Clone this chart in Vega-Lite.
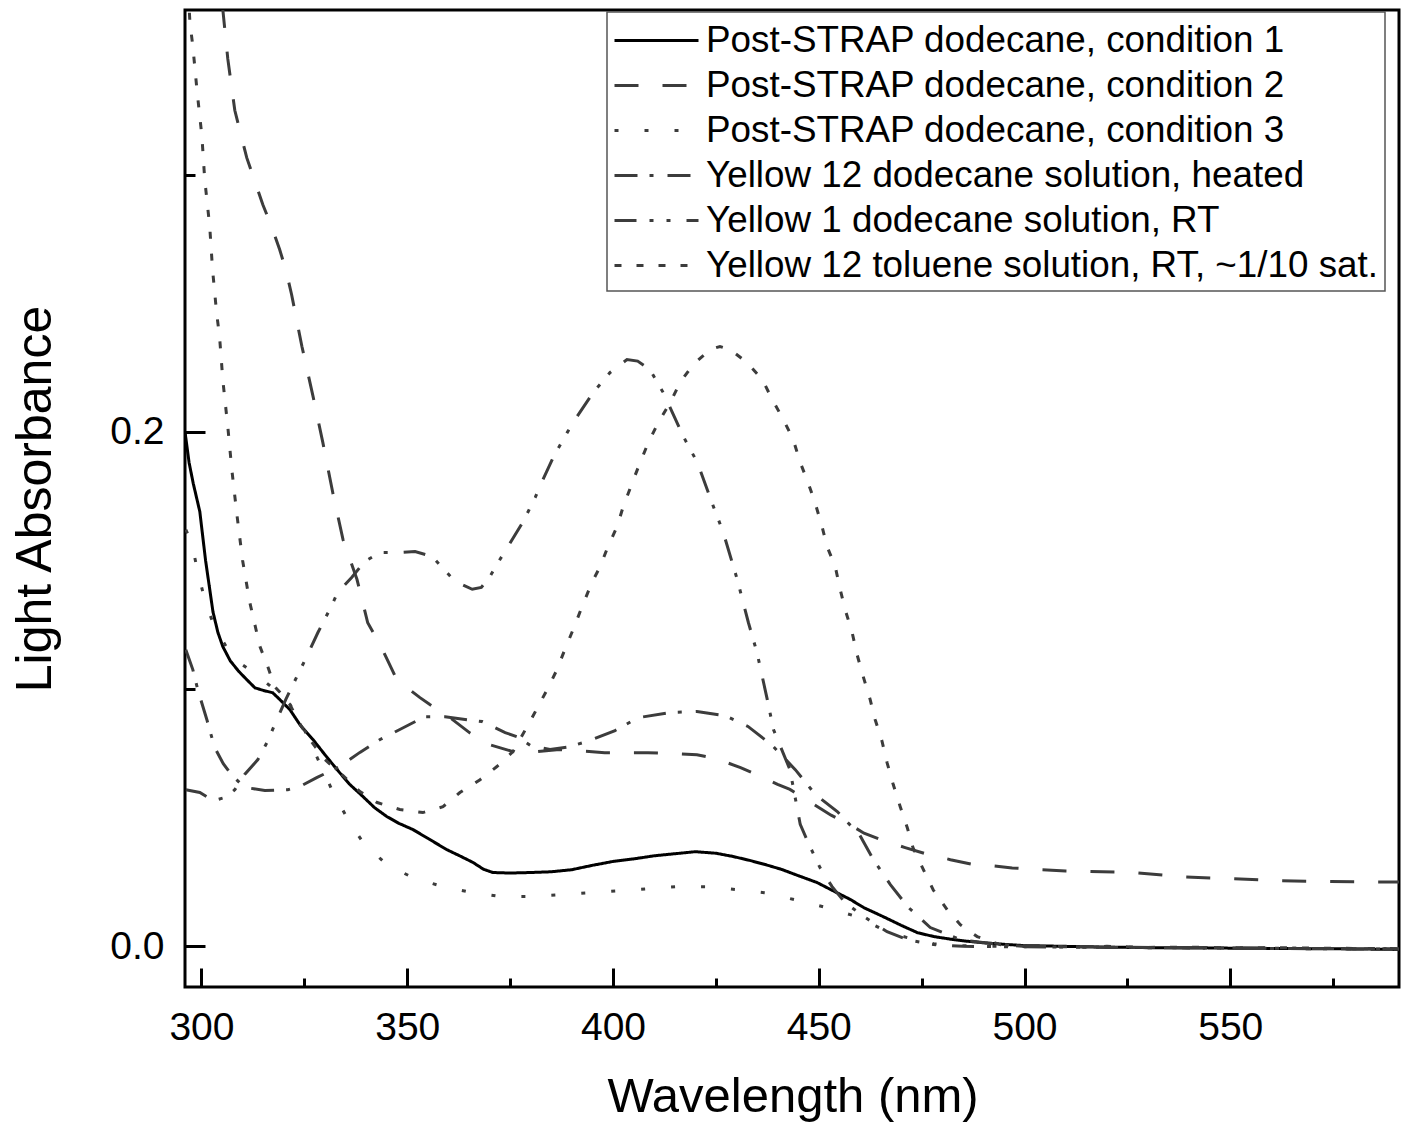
{
  "$schema": "https://vega.github.io/schema/vega-lite/v6.json",
  "width": 1214,
  "height": 977,
  "autosize": {"type": "none"},
  "padding": {"left": 185, "top": 10, "right": 6, "bottom": 148},
  "background": "white",
  "config": {
    "font": "Liberation Sans",
    "view": {"stroke": "black", "strokeWidth": 3},
    "legend": {
      "orient": "none",
      "legendX": 422,
      "legendY": 2,
      "padding": 6,
      "strokeColor": "#555555",
      "strokeWidth": 1.5,
      "labelFont": "Liberation Sans",
      "labelFontSize": 36.8,
      "labelColor": "black",
      "labelLimit": 1000,
      "labelOffset": 48,
      "symbolType": "M-1,0H3",
      "symbolSize": 1764,
      "symbolStrokeWidth": 3,
      "rowPadding": 3.0
    }
  },
  "data": {"values": [
    {"s": "Post-STRAP dodecane, condition 1", "x": 296, "y": 0.2},
    {"s": "Post-STRAP dodecane, condition 1", "x": 297, "y": 0.188},
    {"s": "Post-STRAP dodecane, condition 1", "x": 298, "y": 0.18},
    {"s": "Post-STRAP dodecane, condition 1", "x": 299.6, "y": 0.169},
    {"s": "Post-STRAP dodecane, condition 1", "x": 301, "y": 0.15},
    {"s": "Post-STRAP dodecane, condition 1", "x": 302.8, "y": 0.13},
    {"s": "Post-STRAP dodecane, condition 1", "x": 304, "y": 0.122},
    {"s": "Post-STRAP dodecane, condition 1", "x": 305.2, "y": 0.1165},
    {"s": "Post-STRAP dodecane, condition 1", "x": 307, "y": 0.111},
    {"s": "Post-STRAP dodecane, condition 1", "x": 309, "y": 0.107},
    {"s": "Post-STRAP dodecane, condition 1", "x": 311, "y": 0.1037},
    {"s": "Post-STRAP dodecane, condition 1", "x": 313, "y": 0.1005},
    {"s": "Post-STRAP dodecane, condition 1", "x": 315, "y": 0.0995},
    {"s": "Post-STRAP dodecane, condition 1", "x": 317.3, "y": 0.0986},
    {"s": "Post-STRAP dodecane, condition 1", "x": 319, "y": 0.096},
    {"s": "Post-STRAP dodecane, condition 1", "x": 321.5, "y": 0.092},
    {"s": "Post-STRAP dodecane, condition 1", "x": 324, "y": 0.086},
    {"s": "Post-STRAP dodecane, condition 1", "x": 327.1, "y": 0.0804},
    {"s": "Post-STRAP dodecane, condition 1", "x": 330, "y": 0.0745},
    {"s": "Post-STRAP dodecane, condition 1", "x": 332.9, "y": 0.0688},
    {"s": "Post-STRAP dodecane, condition 1", "x": 336, "y": 0.063},
    {"s": "Post-STRAP dodecane, condition 1", "x": 339.2, "y": 0.0583},
    {"s": "Post-STRAP dodecane, condition 1", "x": 342, "y": 0.054},
    {"s": "Post-STRAP dodecane, condition 1", "x": 345, "y": 0.0505},
    {"s": "Post-STRAP dodecane, condition 1", "x": 348, "y": 0.0478},
    {"s": "Post-STRAP dodecane, condition 1", "x": 351.4, "y": 0.0454},
    {"s": "Post-STRAP dodecane, condition 1", "x": 355, "y": 0.042},
    {"s": "Post-STRAP dodecane, condition 1", "x": 359.6, "y": 0.0376},
    {"s": "Post-STRAP dodecane, condition 1", "x": 363, "y": 0.035},
    {"s": "Post-STRAP dodecane, condition 1", "x": 366, "y": 0.0326},
    {"s": "Post-STRAP dodecane, condition 1", "x": 368.5, "y": 0.03},
    {"s": "Post-STRAP dodecane, condition 1", "x": 370.8, "y": 0.0287},
    {"s": "Post-STRAP dodecane, condition 1", "x": 375, "y": 0.0285},
    {"s": "Post-STRAP dodecane, condition 1", "x": 380, "y": 0.0287},
    {"s": "Post-STRAP dodecane, condition 1", "x": 385, "y": 0.029},
    {"s": "Post-STRAP dodecane, condition 1", "x": 390, "y": 0.0298},
    {"s": "Post-STRAP dodecane, condition 1", "x": 395, "y": 0.0315},
    {"s": "Post-STRAP dodecane, condition 1", "x": 400, "y": 0.033},
    {"s": "Post-STRAP dodecane, condition 1", "x": 405, "y": 0.034},
    {"s": "Post-STRAP dodecane, condition 1", "x": 410, "y": 0.0352},
    {"s": "Post-STRAP dodecane, condition 1", "x": 415, "y": 0.036},
    {"s": "Post-STRAP dodecane, condition 1", "x": 420, "y": 0.0368},
    {"s": "Post-STRAP dodecane, condition 1", "x": 425, "y": 0.0362},
    {"s": "Post-STRAP dodecane, condition 1", "x": 429, "y": 0.035},
    {"s": "Post-STRAP dodecane, condition 1", "x": 433, "y": 0.0335},
    {"s": "Post-STRAP dodecane, condition 1", "x": 437, "y": 0.0318},
    {"s": "Post-STRAP dodecane, condition 1", "x": 441, "y": 0.0299},
    {"s": "Post-STRAP dodecane, condition 1", "x": 445, "y": 0.0275},
    {"s": "Post-STRAP dodecane, condition 1", "x": 449.6, "y": 0.0248},
    {"s": "Post-STRAP dodecane, condition 1", "x": 453, "y": 0.022},
    {"s": "Post-STRAP dodecane, condition 1", "x": 457.7, "y": 0.0182},
    {"s": "Post-STRAP dodecane, condition 1", "x": 461, "y": 0.015},
    {"s": "Post-STRAP dodecane, condition 1", "x": 465.6, "y": 0.0116},
    {"s": "Post-STRAP dodecane, condition 1", "x": 470, "y": 0.0082},
    {"s": "Post-STRAP dodecane, condition 1", "x": 474, "y": 0.0053},
    {"s": "Post-STRAP dodecane, condition 1", "x": 478, "y": 0.0038},
    {"s": "Post-STRAP dodecane, condition 1", "x": 482, "y": 0.0028},
    {"s": "Post-STRAP dodecane, condition 1", "x": 486, "y": 0.002},
    {"s": "Post-STRAP dodecane, condition 1", "x": 490, "y": 0.0014},
    {"s": "Post-STRAP dodecane, condition 1", "x": 495, "y": 0.0008},
    {"s": "Post-STRAP dodecane, condition 1", "x": 500, "y": 0.0003},
    {"s": "Post-STRAP dodecane, condition 1", "x": 510, "y": 0.0},
    {"s": "Post-STRAP dodecane, condition 1", "x": 520, "y": -0.0003},
    {"s": "Post-STRAP dodecane, condition 1", "x": 530, "y": -0.0005},
    {"s": "Post-STRAP dodecane, condition 1", "x": 540, "y": -0.0005},
    {"s": "Post-STRAP dodecane, condition 1", "x": 550, "y": -0.0007},
    {"s": "Post-STRAP dodecane, condition 1", "x": 560, "y": -0.0008},
    {"s": "Post-STRAP dodecane, condition 1", "x": 570, "y": -0.0009},
    {"s": "Post-STRAP dodecane, condition 1", "x": 580, "y": -0.001},
    {"s": "Post-STRAP dodecane, condition 1", "x": 591, "y": -0.0012},

    {"s": "Post-STRAP dodecane, condition 2", "x": 304.5, "y": 0.385},
    {"s": "Post-STRAP dodecane, condition 2", "x": 305.2, "y": 0.364},
    {"s": "Post-STRAP dodecane, condition 2", "x": 306.4, "y": 0.345},
    {"s": "Post-STRAP dodecane, condition 2", "x": 308.1, "y": 0.325},
    {"s": "Post-STRAP dodecane, condition 2", "x": 311, "y": 0.3066},
    {"s": "Post-STRAP dodecane, condition 2", "x": 314.9, "y": 0.2884},
    {"s": "Post-STRAP dodecane, condition 2", "x": 317, "y": 0.28},
    {"s": "Post-STRAP dodecane, condition 2", "x": 319, "y": 0.2709},
    {"s": "Post-STRAP dodecane, condition 2", "x": 320.5, "y": 0.263},
    {"s": "Post-STRAP dodecane, condition 2", "x": 321.9, "y": 0.2534},
    {"s": "Post-STRAP dodecane, condition 2", "x": 324.4, "y": 0.2333},
    {"s": "Post-STRAP dodecane, condition 2", "x": 327.1, "y": 0.2139},
    {"s": "Post-STRAP dodecane, condition 2", "x": 329.5, "y": 0.1958},
    {"s": "Post-STRAP dodecane, condition 2", "x": 331.9, "y": 0.1764},
    {"s": "Post-STRAP dodecane, condition 2", "x": 334.4, "y": 0.1581},
    {"s": "Post-STRAP dodecane, condition 2", "x": 337.8, "y": 0.1426},
    {"s": "Post-STRAP dodecane, condition 2", "x": 340.4, "y": 0.1258},
    {"s": "Post-STRAP dodecane, condition 2", "x": 343.4, "y": 0.1173},
    {"s": "Post-STRAP dodecane, condition 2", "x": 347, "y": 0.1053},
    {"s": "Post-STRAP dodecane, condition 2", "x": 350, "y": 0.1005},
    {"s": "Post-STRAP dodecane, condition 2", "x": 353.1, "y": 0.0967},
    {"s": "Post-STRAP dodecane, condition 2", "x": 355.5, "y": 0.094},
    {"s": "Post-STRAP dodecane, condition 2", "x": 360.4, "y": 0.0889},
    {"s": "Post-STRAP dodecane, condition 2", "x": 365.2, "y": 0.083},
    {"s": "Post-STRAP dodecane, condition 2", "x": 370, "y": 0.0784},
    {"s": "Post-STRAP dodecane, condition 2", "x": 375.7, "y": 0.0757},
    {"s": "Post-STRAP dodecane, condition 2", "x": 380, "y": 0.0755},
    {"s": "Post-STRAP dodecane, condition 2", "x": 387, "y": 0.0765},
    {"s": "Post-STRAP dodecane, condition 2", "x": 392, "y": 0.076},
    {"s": "Post-STRAP dodecane, condition 2", "x": 398, "y": 0.0753},
    {"s": "Post-STRAP dodecane, condition 2", "x": 403, "y": 0.0753},
    {"s": "Post-STRAP dodecane, condition 2", "x": 408.5, "y": 0.0753},
    {"s": "Post-STRAP dodecane, condition 2", "x": 414, "y": 0.075},
    {"s": "Post-STRAP dodecane, condition 2", "x": 420.4, "y": 0.0745},
    {"s": "Post-STRAP dodecane, condition 2", "x": 425, "y": 0.073},
    {"s": "Post-STRAP dodecane, condition 2", "x": 431, "y": 0.0695},
    {"s": "Post-STRAP dodecane, condition 2", "x": 436, "y": 0.066},
    {"s": "Post-STRAP dodecane, condition 2", "x": 440, "y": 0.063},
    {"s": "Post-STRAP dodecane, condition 2", "x": 443, "y": 0.061},
    {"s": "Post-STRAP dodecane, condition 2", "x": 449, "y": 0.055},
    {"s": "Post-STRAP dodecane, condition 2", "x": 453, "y": 0.051},
    {"s": "Post-STRAP dodecane, condition 2", "x": 457.6, "y": 0.0473},
    {"s": "Post-STRAP dodecane, condition 2", "x": 461, "y": 0.044},
    {"s": "Post-STRAP dodecane, condition 2", "x": 465, "y": 0.0415},
    {"s": "Post-STRAP dodecane, condition 2", "x": 471, "y": 0.0384},
    {"s": "Post-STRAP dodecane, condition 2", "x": 476, "y": 0.036},
    {"s": "Post-STRAP dodecane, condition 2", "x": 482, "y": 0.0337},
    {"s": "Post-STRAP dodecane, condition 2", "x": 487, "y": 0.032},
    {"s": "Post-STRAP dodecane, condition 2", "x": 491.6, "y": 0.0314},
    {"s": "Post-STRAP dodecane, condition 2", "x": 497, "y": 0.0305},
    {"s": "Post-STRAP dodecane, condition 2", "x": 503.8, "y": 0.0298},
    {"s": "Post-STRAP dodecane, condition 2", "x": 510, "y": 0.0293},
    {"s": "Post-STRAP dodecane, condition 2", "x": 516, "y": 0.0291},
    {"s": "Post-STRAP dodecane, condition 2", "x": 526.4, "y": 0.0287},
    {"s": "Post-STRAP dodecane, condition 2", "x": 537.8, "y": 0.0271},
    {"s": "Post-STRAP dodecane, condition 2", "x": 550, "y": 0.0263},
    {"s": "Post-STRAP dodecane, condition 2", "x": 562.2, "y": 0.0255},
    {"s": "Post-STRAP dodecane, condition 2", "x": 574.4, "y": 0.0252},
    {"s": "Post-STRAP dodecane, condition 2", "x": 591, "y": 0.025},

    {"s": "Post-STRAP dodecane, condition 3", "x": 296.2, "y": 0.162},
    {"s": "Post-STRAP dodecane, condition 3", "x": 297.6, "y": 0.157},
    {"s": "Post-STRAP dodecane, condition 3", "x": 299.1, "y": 0.1456},
    {"s": "Post-STRAP dodecane, condition 3", "x": 300.8, "y": 0.1348},
    {"s": "Post-STRAP dodecane, condition 3", "x": 303.2, "y": 0.1239},
    {"s": "Post-STRAP dodecane, condition 3", "x": 306.9, "y": 0.1142},
    {"s": "Post-STRAP dodecane, condition 3", "x": 309.5, "y": 0.11},
    {"s": "Post-STRAP dodecane, condition 3", "x": 312.5, "y": 0.1066},
    {"s": "Post-STRAP dodecane, condition 3", "x": 315, "y": 0.1035},
    {"s": "Post-STRAP dodecane, condition 3", "x": 317.8, "y": 0.0998},
    {"s": "Post-STRAP dodecane, condition 3", "x": 321.5, "y": 0.094},
    {"s": "Post-STRAP dodecane, condition 3", "x": 324.5, "y": 0.086},
    {"s": "Post-STRAP dodecane, condition 3", "x": 328.8, "y": 0.071},
    {"s": "Post-STRAP dodecane, condition 3", "x": 332, "y": 0.0598},
    {"s": "Post-STRAP dodecane, condition 3", "x": 335.6, "y": 0.0493},
    {"s": "Post-STRAP dodecane, condition 3", "x": 339.3, "y": 0.0403},
    {"s": "Post-STRAP dodecane, condition 3", "x": 345, "y": 0.0318},
    {"s": "Post-STRAP dodecane, condition 3", "x": 351.4, "y": 0.0267},
    {"s": "Post-STRAP dodecane, condition 3", "x": 358.7, "y": 0.0232},
    {"s": "Post-STRAP dodecane, condition 3", "x": 365.8, "y": 0.0209},
    {"s": "Post-STRAP dodecane, condition 3", "x": 372.5, "y": 0.0194},
    {"s": "Post-STRAP dodecane, condition 3", "x": 379.8, "y": 0.0194},
    {"s": "Post-STRAP dodecane, condition 3", "x": 387.1, "y": 0.0201},
    {"s": "Post-STRAP dodecane, condition 3", "x": 393.9, "y": 0.0208},
    {"s": "Post-STRAP dodecane, condition 3", "x": 401.2, "y": 0.0216},
    {"s": "Post-STRAP dodecane, condition 3", "x": 408.5, "y": 0.0224},
    {"s": "Post-STRAP dodecane, condition 3", "x": 415.6, "y": 0.0232},
    {"s": "Post-STRAP dodecane, condition 3", "x": 422.9, "y": 0.0232},
    {"s": "Post-STRAP dodecane, condition 3", "x": 430.2, "y": 0.022},
    {"s": "Post-STRAP dodecane, condition 3", "x": 437, "y": 0.0208},
    {"s": "Post-STRAP dodecane, condition 3", "x": 444.3, "y": 0.0181},
    {"s": "Post-STRAP dodecane, condition 3", "x": 451.1, "y": 0.0154},
    {"s": "Post-STRAP dodecane, condition 3", "x": 459.4, "y": 0.0115},
    {"s": "Post-STRAP dodecane, condition 3", "x": 466.6, "y": 0.0057},
    {"s": "Post-STRAP dodecane, condition 3", "x": 471.5, "y": 0.0034},
    {"s": "Post-STRAP dodecane, condition 3", "x": 477.9, "y": 0.001},
    {"s": "Post-STRAP dodecane, condition 3", "x": 485, "y": 0.0003},
    {"s": "Post-STRAP dodecane, condition 3", "x": 495, "y": 0.0},
    {"s": "Post-STRAP dodecane, condition 3", "x": 510, "y": -0.0003},
    {"s": "Post-STRAP dodecane, condition 3", "x": 530, "y": -0.0005},
    {"s": "Post-STRAP dodecane, condition 3", "x": 550, "y": -0.0006},
    {"s": "Post-STRAP dodecane, condition 3", "x": 570, "y": -0.0008},
    {"s": "Post-STRAP dodecane, condition 3", "x": 591, "y": -0.001},

    {"s": "Yellow 12 dodecane solution, heated", "x": 296.2, "y": 0.1153},
    {"s": "Yellow 12 dodecane solution, heated", "x": 297.9, "y": 0.1076},
    {"s": "Yellow 12 dodecane solution, heated", "x": 299.1, "y": 0.0998},
    {"s": "Yellow 12 dodecane solution, heated", "x": 301.3, "y": 0.0882},
    {"s": "Yellow 12 dodecane solution, heated", "x": 303.2, "y": 0.0773},
    {"s": "Yellow 12 dodecane solution, heated", "x": 305.3, "y": 0.071},
    {"s": "Yellow 12 dodecane solution, heated", "x": 307.4, "y": 0.0665},
    {"s": "Yellow 12 dodecane solution, heated", "x": 310.5, "y": 0.0618},
    {"s": "Yellow 12 dodecane solution, heated", "x": 315.4, "y": 0.0606},
    {"s": "Yellow 12 dodecane solution, heated", "x": 321, "y": 0.0609},
    {"s": "Yellow 12 dodecane solution, heated", "x": 323.9, "y": 0.0621},
    {"s": "Yellow 12 dodecane solution, heated", "x": 328, "y": 0.0656},
    {"s": "Yellow 12 dodecane solution, heated", "x": 333.6, "y": 0.0699},
    {"s": "Yellow 12 dodecane solution, heated", "x": 338.5, "y": 0.0754},
    {"s": "Yellow 12 dodecane solution, heated", "x": 343.4, "y": 0.0804},
    {"s": "Yellow 12 dodecane solution, heated", "x": 348.2, "y": 0.0843},
    {"s": "Yellow 12 dodecane solution, heated", "x": 354.3, "y": 0.0893},
    {"s": "Yellow 12 dodecane solution, heated", "x": 359.2, "y": 0.0893},
    {"s": "Yellow 12 dodecane solution, heated", "x": 364.5, "y": 0.0881},
    {"s": "Yellow 12 dodecane solution, heated", "x": 368.2, "y": 0.0874},
    {"s": "Yellow 12 dodecane solution, heated", "x": 373.8, "y": 0.0831},
    {"s": "Yellow 12 dodecane solution, heated", "x": 376.7, "y": 0.0815},
    {"s": "Yellow 12 dodecane solution, heated", "x": 380, "y": 0.078},
    {"s": "Yellow 12 dodecane solution, heated", "x": 384.7, "y": 0.0765},
    {"s": "Yellow 12 dodecane solution, heated", "x": 389, "y": 0.0775},
    {"s": "Yellow 12 dodecane solution, heated", "x": 393.7, "y": 0.0796},
    {"s": "Yellow 12 dodecane solution, heated", "x": 400.5, "y": 0.0839},
    {"s": "Yellow 12 dodecane solution, heated", "x": 406.1, "y": 0.0889},
    {"s": "Yellow 12 dodecane solution, heated", "x": 413.9, "y": 0.0909},
    {"s": "Yellow 12 dodecane solution, heated", "x": 420.4, "y": 0.0913},
    {"s": "Yellow 12 dodecane solution, heated", "x": 427.2, "y": 0.0897},
    {"s": "Yellow 12 dodecane solution, heated", "x": 432.8, "y": 0.0855},
    {"s": "Yellow 12 dodecane solution, heated", "x": 438.7, "y": 0.0781},
    {"s": "Yellow 12 dodecane solution, heated", "x": 444.3, "y": 0.0687},
    {"s": "Yellow 12 dodecane solution, heated", "x": 449.2, "y": 0.059},
    {"s": "Yellow 12 dodecane solution, heated", "x": 454.5, "y": 0.0524},
    {"s": "Yellow 12 dodecane solution, heated", "x": 459.9, "y": 0.0434},
    {"s": "Yellow 12 dodecane solution, heated", "x": 463.3, "y": 0.0337},
    {"s": "Yellow 12 dodecane solution, heated", "x": 467.4, "y": 0.024},
    {"s": "Yellow 12 dodecane solution, heated", "x": 471.8, "y": 0.0151},
    {"s": "Yellow 12 dodecane solution, heated", "x": 477.1, "y": 0.0073},
    {"s": "Yellow 12 dodecane solution, heated", "x": 484.4, "y": 0.0026},
    {"s": "Yellow 12 dodecane solution, heated", "x": 494, "y": 0.0007},
    {"s": "Yellow 12 dodecane solution, heated", "x": 505, "y": 0.0},
    {"s": "Yellow 12 dodecane solution, heated", "x": 520, "y": -0.0003},
    {"s": "Yellow 12 dodecane solution, heated", "x": 540, "y": -0.0006},
    {"s": "Yellow 12 dodecane solution, heated", "x": 560, "y": -0.0008},
    {"s": "Yellow 12 dodecane solution, heated", "x": 580, "y": -0.001},
    {"s": "Yellow 12 dodecane solution, heated", "x": 591, "y": -0.001},

    {"s": "Yellow 1 dodecane solution, RT", "x": 296.2, "y": 0.0609},
    {"s": "Yellow 1 dodecane solution, RT", "x": 299.6, "y": 0.0598},
    {"s": "Yellow 1 dodecane solution, RT", "x": 302, "y": 0.0575},
    {"s": "Yellow 1 dodecane solution, RT", "x": 303.7, "y": 0.057},
    {"s": "Yellow 1 dodecane solution, RT", "x": 306, "y": 0.058},
    {"s": "Yellow 1 dodecane solution, RT", "x": 308.1, "y": 0.0609},
    {"s": "Yellow 1 dodecane solution, RT", "x": 310.5, "y": 0.0668},
    {"s": "Yellow 1 dodecane solution, RT", "x": 313.7, "y": 0.0726},
    {"s": "Yellow 1 dodecane solution, RT", "x": 315.9, "y": 0.0792},
    {"s": "Yellow 1 dodecane solution, RT", "x": 317.8, "y": 0.0862},
    {"s": "Yellow 1 dodecane solution, RT", "x": 320.5, "y": 0.096},
    {"s": "Yellow 1 dodecane solution, RT", "x": 323.2, "y": 0.1049},
    {"s": "Yellow 1 dodecane solution, RT", "x": 325.6, "y": 0.1127},
    {"s": "Yellow 1 dodecane solution, RT", "x": 328.3, "y": 0.122},
    {"s": "Yellow 1 dodecane solution, RT", "x": 331.4, "y": 0.1317},
    {"s": "Yellow 1 dodecane solution, RT", "x": 333.1, "y": 0.1376},
    {"s": "Yellow 1 dodecane solution, RT", "x": 336.5, "y": 0.1434},
    {"s": "Yellow 1 dodecane solution, RT", "x": 339.7, "y": 0.1497},
    {"s": "Yellow 1 dodecane solution, RT", "x": 343.4, "y": 0.1531},
    {"s": "Yellow 1 dodecane solution, RT", "x": 347.7, "y": 0.1531},
    {"s": "Yellow 1 dodecane solution, RT", "x": 351.9, "y": 0.1535},
    {"s": "Yellow 1 dodecane solution, RT", "x": 356, "y": 0.1516},
    {"s": "Yellow 1 dodecane solution, RT", "x": 358.5, "y": 0.1473},
    {"s": "Yellow 1 dodecane solution, RT", "x": 361.6, "y": 0.1419},
    {"s": "Yellow 1 dodecane solution, RT", "x": 365.8, "y": 0.1388},
    {"s": "Yellow 1 dodecane solution, RT", "x": 368, "y": 0.1395},
    {"s": "Yellow 1 dodecane solution, RT", "x": 370.1, "y": 0.1438},
    {"s": "Yellow 1 dodecane solution, RT", "x": 372.1, "y": 0.1493},
    {"s": "Yellow 1 dodecane solution, RT", "x": 374.5, "y": 0.1555},
    {"s": "Yellow 1 dodecane solution, RT", "x": 378.2, "y": 0.1652},
    {"s": "Yellow 1 dodecane solution, RT", "x": 381.1, "y": 0.1745},
    {"s": "Yellow 1 dodecane solution, RT", "x": 383, "y": 0.1815},
    {"s": "Yellow 1 dodecane solution, RT", "x": 385.7, "y": 0.1908},
    {"s": "Yellow 1 dodecane solution, RT", "x": 388.9, "y": 0.1998},
    {"s": "Yellow 1 dodecane solution, RT", "x": 391.3, "y": 0.206},
    {"s": "Yellow 1 dodecane solution, RT", "x": 395.2, "y": 0.2153},
    {"s": "Yellow 1 dodecane solution, RT", "x": 399.3, "y": 0.2231},
    {"s": "Yellow 1 dodecane solution, RT", "x": 403.4, "y": 0.2281},
    {"s": "Yellow 1 dodecane solution, RT", "x": 406, "y": 0.2275},
    {"s": "Yellow 1 dodecane solution, RT", "x": 409, "y": 0.2242},
    {"s": "Yellow 1 dodecane solution, RT", "x": 412.2, "y": 0.2153},
    {"s": "Yellow 1 dodecane solution, RT", "x": 417.1, "y": 0.1982},
    {"s": "Yellow 1 dodecane solution, RT", "x": 420.5, "y": 0.1881},
    {"s": "Yellow 1 dodecane solution, RT", "x": 424.4, "y": 0.171},
    {"s": "Yellow 1 dodecane solution, RT", "x": 426.8, "y": 0.1609},
    {"s": "Yellow 1 dodecane solution, RT", "x": 430.2, "y": 0.1426},
    {"s": "Yellow 1 dodecane solution, RT", "x": 432.9, "y": 0.1259},
    {"s": "Yellow 1 dodecane solution, RT", "x": 435, "y": 0.1142},
    {"s": "Yellow 1 dodecane solution, RT", "x": 437.5, "y": 0.0959},
    {"s": "Yellow 1 dodecane solution, RT", "x": 439, "y": 0.0843},
    {"s": "Yellow 1 dodecane solution, RT", "x": 443, "y": 0.0687},
    {"s": "Yellow 1 dodecane solution, RT", "x": 445.5, "y": 0.0474},
    {"s": "Yellow 1 dodecane solution, RT", "x": 447.4, "y": 0.0404},
    {"s": "Yellow 1 dodecane solution, RT", "x": 450.3, "y": 0.0306},
    {"s": "Yellow 1 dodecane solution, RT", "x": 453.2, "y": 0.0233},
    {"s": "Yellow 1 dodecane solution, RT", "x": 456.4, "y": 0.017},
    {"s": "Yellow 1 dodecane solution, RT", "x": 461.3, "y": 0.0112},
    {"s": "Yellow 1 dodecane solution, RT", "x": 466.6, "y": 0.0057},
    {"s": "Yellow 1 dodecane solution, RT", "x": 471.5, "y": 0.0026},
    {"s": "Yellow 1 dodecane solution, RT", "x": 477.9, "y": 0.0007},
    {"s": "Yellow 1 dodecane solution, RT", "x": 485, "y": 0.0},
    {"s": "Yellow 1 dodecane solution, RT", "x": 500, "y": -0.0002},
    {"s": "Yellow 1 dodecane solution, RT", "x": 520, "y": -0.0004},
    {"s": "Yellow 1 dodecane solution, RT", "x": 540, "y": -0.0006},
    {"s": "Yellow 1 dodecane solution, RT", "x": 560, "y": -0.0007},
    {"s": "Yellow 1 dodecane solution, RT", "x": 580, "y": -0.0009},
    {"s": "Yellow 1 dodecane solution, RT", "x": 591, "y": -0.001},

    {"s": "Yellow 12 toluene solution, RT, ~1/10 sat.", "x": 296.5, "y": 0.38},
    {"s": "Yellow 12 toluene solution, RT, ~1/10 sat.", "x": 297.2, "y": 0.359},
    {"s": "Yellow 12 toluene solution, RT, ~1/10 sat.", "x": 297.9, "y": 0.35},
    {"s": "Yellow 12 toluene solution, RT, ~1/10 sat.", "x": 298.9, "y": 0.333},
    {"s": "Yellow 12 toluene solution, RT, ~1/10 sat.", "x": 300.1, "y": 0.315},
    {"s": "Yellow 12 toluene solution, RT, ~1/10 sat.", "x": 300.8, "y": 0.298},
    {"s": "Yellow 12 toluene solution, RT, ~1/10 sat.", "x": 302, "y": 0.28},
    {"s": "Yellow 12 toluene solution, RT, ~1/10 sat.", "x": 302.7, "y": 0.263},
    {"s": "Yellow 12 toluene solution, RT, ~1/10 sat.", "x": 303.7, "y": 0.246},
    {"s": "Yellow 12 toluene solution, RT, ~1/10 sat.", "x": 304.4, "y": 0.237},
    {"s": "Yellow 12 toluene solution, RT, ~1/10 sat.", "x": 305.2, "y": 0.22},
    {"s": "Yellow 12 toluene solution, RT, ~1/10 sat.", "x": 306.4, "y": 0.202},
    {"s": "Yellow 12 toluene solution, RT, ~1/10 sat.", "x": 307.4, "y": 0.185},
    {"s": "Yellow 12 toluene solution, RT, ~1/10 sat.", "x": 308.6, "y": 0.168},
    {"s": "Yellow 12 toluene solution, RT, ~1/10 sat.", "x": 310, "y": 0.15},
    {"s": "Yellow 12 toluene solution, RT, ~1/10 sat.", "x": 311.7, "y": 0.134},
    {"s": "Yellow 12 toluene solution, RT, ~1/10 sat.", "x": 314.2, "y": 0.1166},
    {"s": "Yellow 12 toluene solution, RT, ~1/10 sat.", "x": 316.1, "y": 0.1088},
    {"s": "Yellow 12 toluene solution, RT, ~1/10 sat.", "x": 317.8, "y": 0.101},
    {"s": "Yellow 12 toluene solution, RT, ~1/10 sat.", "x": 319.5, "y": 0.098},
    {"s": "Yellow 12 toluene solution, RT, ~1/10 sat.", "x": 321.5, "y": 0.094},
    {"s": "Yellow 12 toluene solution, RT, ~1/10 sat.", "x": 324.1, "y": 0.086},
    {"s": "Yellow 12 toluene solution, RT, ~1/10 sat.", "x": 327, "y": 0.079},
    {"s": "Yellow 12 toluene solution, RT, ~1/10 sat.", "x": 330, "y": 0.0726},
    {"s": "Yellow 12 toluene solution, RT, ~1/10 sat.", "x": 334.4, "y": 0.0664},
    {"s": "Yellow 12 toluene solution, RT, ~1/10 sat.", "x": 338.5, "y": 0.0602},
    {"s": "Yellow 12 toluene solution, RT, ~1/10 sat.", "x": 342.7, "y": 0.0559},
    {"s": "Yellow 12 toluene solution, RT, ~1/10 sat.", "x": 348.2, "y": 0.0532},
    {"s": "Yellow 12 toluene solution, RT, ~1/10 sat.", "x": 353.8, "y": 0.052},
    {"s": "Yellow 12 toluene solution, RT, ~1/10 sat.", "x": 358.7, "y": 0.0543},
    {"s": "Yellow 12 toluene solution, RT, ~1/10 sat.", "x": 362.8, "y": 0.0598},
    {"s": "Yellow 12 toluene solution, RT, ~1/10 sat.", "x": 367.7, "y": 0.0648},
    {"s": "Yellow 12 toluene solution, RT, ~1/10 sat.", "x": 371.8, "y": 0.0699},
    {"s": "Yellow 12 toluene solution, RT, ~1/10 sat.", "x": 375.7, "y": 0.0757},
    {"s": "Yellow 12 toluene solution, RT, ~1/10 sat.", "x": 379.8, "y": 0.0873},
    {"s": "Yellow 12 toluene solution, RT, ~1/10 sat.", "x": 384, "y": 0.0998},
    {"s": "Yellow 12 toluene solution, RT, ~1/10 sat.", "x": 386.4, "y": 0.1076},
    {"s": "Yellow 12 toluene solution, RT, ~1/10 sat.", "x": 388.3, "y": 0.1154},
    {"s": "Yellow 12 toluene solution, RT, ~1/10 sat.", "x": 390.3, "y": 0.1231},
    {"s": "Yellow 12 toluene solution, RT, ~1/10 sat.", "x": 392.5, "y": 0.1321},
    {"s": "Yellow 12 toluene solution, RT, ~1/10 sat.", "x": 394.9, "y": 0.1415},
    {"s": "Yellow 12 toluene solution, RT, ~1/10 sat.", "x": 396.9, "y": 0.1477},
    {"s": "Yellow 12 toluene solution, RT, ~1/10 sat.", "x": 398.8, "y": 0.1555},
    {"s": "Yellow 12 toluene solution, RT, ~1/10 sat.", "x": 401, "y": 0.1632},
    {"s": "Yellow 12 toluene solution, RT, ~1/10 sat.", "x": 402.5, "y": 0.171},
    {"s": "Yellow 12 toluene solution, RT, ~1/10 sat.", "x": 404.7, "y": 0.1803},
    {"s": "Yellow 12 toluene solution, RT, ~1/10 sat.", "x": 406.6, "y": 0.1881},
    {"s": "Yellow 12 toluene solution, RT, ~1/10 sat.", "x": 408.6, "y": 0.1959},
    {"s": "Yellow 12 toluene solution, RT, ~1/10 sat.", "x": 411, "y": 0.2036},
    {"s": "Yellow 12 toluene solution, RT, ~1/10 sat.", "x": 413.9, "y": 0.2114},
    {"s": "Yellow 12 toluene solution, RT, ~1/10 sat.", "x": 416.3, "y": 0.2192},
    {"s": "Yellow 12 toluene solution, RT, ~1/10 sat.", "x": 419.5, "y": 0.2262},
    {"s": "Yellow 12 toluene solution, RT, ~1/10 sat.", "x": 423.6, "y": 0.232},
    {"s": "Yellow 12 toluene solution, RT, ~1/10 sat.", "x": 426, "y": 0.2332},
    {"s": "Yellow 12 toluene solution, RT, ~1/10 sat.", "x": 428.5, "y": 0.232},
    {"s": "Yellow 12 toluene solution, RT, ~1/10 sat.", "x": 432.6, "y": 0.2269},
    {"s": "Yellow 12 toluene solution, RT, ~1/10 sat.", "x": 436.3, "y": 0.2203},
    {"s": "Yellow 12 toluene solution, RT, ~1/10 sat.", "x": 438.7, "y": 0.2126},
    {"s": "Yellow 12 toluene solution, RT, ~1/10 sat.", "x": 441.4, "y": 0.2048},
    {"s": "Yellow 12 toluene solution, RT, ~1/10 sat.", "x": 443.8, "y": 0.197},
    {"s": "Yellow 12 toluene solution, RT, ~1/10 sat.", "x": 445.5, "y": 0.1881},
    {"s": "Yellow 12 toluene solution, RT, ~1/10 sat.", "x": 447.4, "y": 0.1803},
    {"s": "Yellow 12 toluene solution, RT, ~1/10 sat.", "x": 449.1, "y": 0.1725},
    {"s": "Yellow 12 toluene solution, RT, ~1/10 sat.", "x": 450.8, "y": 0.1632},
    {"s": "Yellow 12 toluene solution, RT, ~1/10 sat.", "x": 452, "y": 0.1555},
    {"s": "Yellow 12 toluene solution, RT, ~1/10 sat.", "x": 454, "y": 0.1477},
    {"s": "Yellow 12 toluene solution, RT, ~1/10 sat.", "x": 455.2, "y": 0.1388},
    {"s": "Yellow 12 toluene solution, RT, ~1/10 sat.", "x": 456.4, "y": 0.131},
    {"s": "Yellow 12 toluene solution, RT, ~1/10 sat.", "x": 458.1, "y": 0.1221},
    {"s": "Yellow 12 toluene solution, RT, ~1/10 sat.", "x": 459.3, "y": 0.1135},
    {"s": "Yellow 12 toluene solution, RT, ~1/10 sat.", "x": 460.8, "y": 0.1049},
    {"s": "Yellow 12 toluene solution, RT, ~1/10 sat.", "x": 462.5, "y": 0.0959},
    {"s": "Yellow 12 toluene solution, RT, ~1/10 sat.", "x": 463.7, "y": 0.0882},
    {"s": "Yellow 12 toluene solution, RT, ~1/10 sat.", "x": 465.4, "y": 0.0796},
    {"s": "Yellow 12 toluene solution, RT, ~1/10 sat.", "x": 466.6, "y": 0.0714},
    {"s": "Yellow 12 toluene solution, RT, ~1/10 sat.", "x": 468.1, "y": 0.0629},
    {"s": "Yellow 12 toluene solution, RT, ~1/10 sat.", "x": 469.8, "y": 0.0543},
    {"s": "Yellow 12 toluene solution, RT, ~1/10 sat.", "x": 471.5, "y": 0.0462},
    {"s": "Yellow 12 toluene solution, RT, ~1/10 sat.", "x": 472.9, "y": 0.0384},
    {"s": "Yellow 12 toluene solution, RT, ~1/10 sat.", "x": 475.4, "y": 0.0299},
    {"s": "Yellow 12 toluene solution, RT, ~1/10 sat.", "x": 477.8, "y": 0.022},
    {"s": "Yellow 12 toluene solution, RT, ~1/10 sat.", "x": 481.2, "y": 0.0143},
    {"s": "Yellow 12 toluene solution, RT, ~1/10 sat.", "x": 484.4, "y": 0.0084},
    {"s": "Yellow 12 toluene solution, RT, ~1/10 sat.", "x": 488.5, "y": 0.0038},
    {"s": "Yellow 12 toluene solution, RT, ~1/10 sat.", "x": 494, "y": 0.0007},
    {"s": "Yellow 12 toluene solution, RT, ~1/10 sat.", "x": 500, "y": 0.0},
    {"s": "Yellow 12 toluene solution, RT, ~1/10 sat.", "x": 510, "y": -0.0002},
    {"s": "Yellow 12 toluene solution, RT, ~1/10 sat.", "x": 520, "y": 0.0},
    {"s": "Yellow 12 toluene solution, RT, ~1/10 sat.", "x": 530, "y": -0.0004},
    {"s": "Yellow 12 toluene solution, RT, ~1/10 sat.", "x": 540, "y": -0.0003},
    {"s": "Yellow 12 toluene solution, RT, ~1/10 sat.", "x": 550, "y": -0.0006},
    {"s": "Yellow 12 toluene solution, RT, ~1/10 sat.", "x": 560, "y": -0.0005},
    {"s": "Yellow 12 toluene solution, RT, ~1/10 sat.", "x": 570, "y": -0.0007},
    {"s": "Yellow 12 toluene solution, RT, ~1/10 sat.", "x": 580, "y": -0.0008},
    {"s": "Yellow 12 toluene solution, RT, ~1/10 sat.", "x": 591, "y": -0.0009}
  ]},
  "mark": {"type": "line", "clip": true, "strokeWidth": 3},
  "encoding": {
    "x": {
      "field": "x", "type": "quantitative",
      "scale": {"domain": [296, 591], "nice": false, "zero": false},
      "axis": {
        "values": [300, 325, 350, 375, 400, 425, 450, 475, 500, 525, 550, 575],
        "labelExpr": "datum.value % 50 === 0 ? datum.value : ''",
        "grid": false, "domain": false,
        "tickColor": "black", "tickWidth": 3,
        "tickSize": {"condition": {"test": "datum.value % 50 === 0", "value": -19}, "value": -9},
        "labelFont": "Liberation Sans", "labelFontSize": 39, "labelColor": "black",
        "labelBaseline": "alphabetic", "labelPadding": 71, "labelFlush": false, "labelOverlap": false,
        "title": "Wavelength (nm)",
        "titleFont": "Liberation Sans", "titleFontSize": 49, "titleFontWeight": "normal", "titleColor": "black",
        "titleBaseline": "alphabetic", "titleAlign": "center", "titleX": 607.5, "titleY": 124
      }
    },
    "y": {
      "field": "y", "type": "quantitative",
      "scale": {"domain": [-0.0158, 0.364], "nice": false, "zero": false},
      "axis": {
        "values": [0, 0.1, 0.2, 0.3],
        "labelExpr": "abs(datum.value - 0.1) < 0.001 || abs(datum.value - 0.3) < 0.001 ? '' : format(datum.value, '.1f')",
        "grid": false, "domain": false,
        "tickColor": "black", "tickWidth": 3,
        "tickSize": {"condition": {"test": "abs(datum.value - 0.1) < 0.001 || abs(datum.value - 0.3) < 0.001", "value": -10}, "value": -20},
        "labelFont": "Liberation Sans", "labelFontSize": 39, "labelColor": "black",
        "labelPadding": 41, "labelOverlap": false, "labelFlush": false,
        "title": "Light Absorbance",
        "titleFont": "Liberation Sans", "titleFontSize": 50, "titleFontWeight": "normal", "titleColor": "black",
        "titleAngle": -90, "titleBaseline": "middle", "titleAlign": "center", "titleX": -150, "titleY": 488.5
      }
    },
    "color": {
      "field": "s", "type": "nominal",
      "scale": {
        "domain": ["Post-STRAP dodecane, condition 1", "Post-STRAP dodecane, condition 2", "Post-STRAP dodecane, condition 3", "Yellow 12 dodecane solution, heated", "Yellow 1 dodecane solution, RT", "Yellow 12 toluene solution, RT, ~1/10 sat."],
        "range": ["#000000", "#3c3c3c", "#3c3c3c", "#3c3c3c", "#3c3c3c", "#3c3c3c"]
      },
      "legend": {"title": null}
    },
    "strokeDash": {
      "field": "s", "type": "nominal",
      "scale": {
        "domain": ["Post-STRAP dodecane, condition 1", "Post-STRAP dodecane, condition 2", "Post-STRAP dodecane, condition 3", "Yellow 12 dodecane solution, heated", "Yellow 1 dodecane solution, RT", "Yellow 12 toluene solution, RT, ~1/10 sat."],
        "range": [[1, 0], [24, 24], [4, 26], [23, 12, 4, 14], [22, 13, 4, 13, 4, 16], [7, 15]]
      },
      "legend": {"title": null}
    }
  }
}
